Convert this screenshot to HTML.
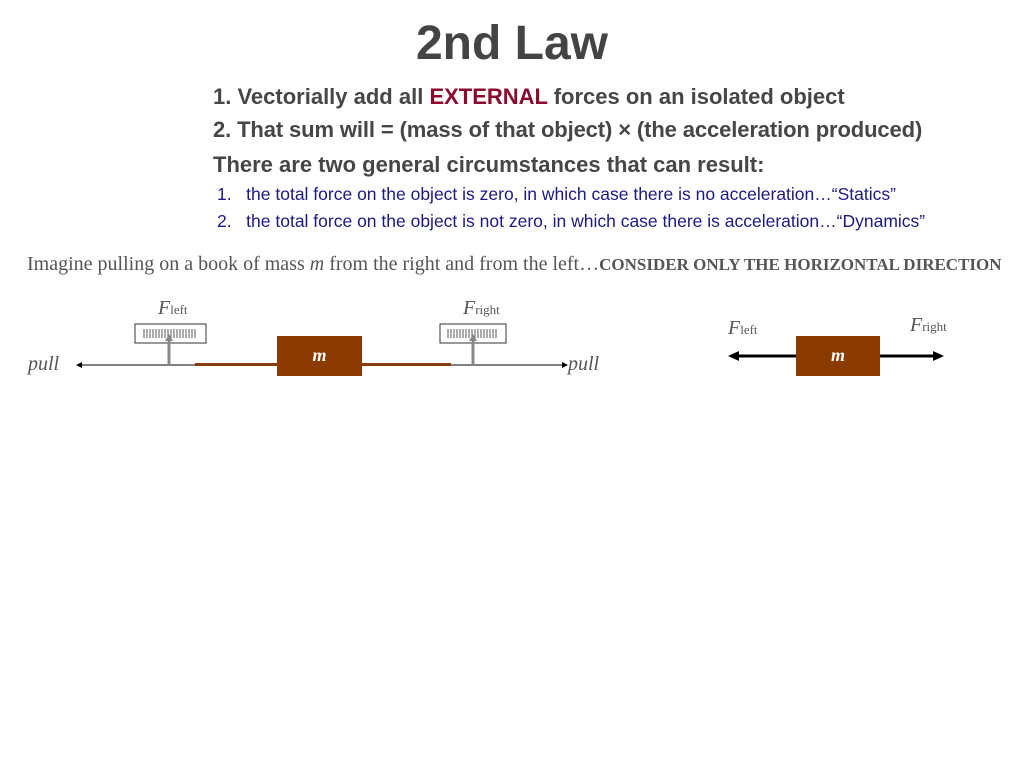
<!DOCTYPE html>
<html><head><meta charset="utf-8"><style>
body{margin:0;width:1024px;height:768px;background:#fff;position:relative;overflow:hidden;font-family:"Liberation Sans",sans-serif}
.a{position:absolute;white-space:nowrap}
.b{font-weight:bold;color:#464646;font-size:22px}
.s{color:#1c1a80;font-size:17.5px}
.ser{font-family:"Liberation Serif",serif}
</style></head><body>
<div class="a b" style="left:0;width:1024px;text-align:center;top:16px;font-size:48px;color:#444">2nd Law</div>
<div class="a b" style="left:213px;top:84px">1. Vectorially add all <span style="color:#8b0a2e">EXTERNAL</span> forces on an isolated object</div>
<div class="a b" style="left:213px;top:117px;letter-spacing:-0.12px">2. That sum will = (mass of that object) × (the acceleration produced)</div>
<div class="a b" style="left:213px;top:152px">There are two general circumstances that can result:</div>
<div class="a s" style="left:217px;top:184px">1.&nbsp;&nbsp; the total force on the object is zero, in which case there is no acceleration…“Statics”</div>
<div class="a s" style="left:217px;top:211px">2.&nbsp;&nbsp; the total force on the object is not zero, in which case there is acceleration…“Dynamics”</div>
<div class="a ser" style="left:27px;top:253px;font-size:20px;color:#555">Imagine pulling on a book of mass <i>m</i> from the right and from the left…<b style="font-size:17px">CONSIDER ONLY THE HORIZONTAL DIRECTION</b></div>
<svg class="a" style="left:0;top:0" width="1024" height="768">
<line x1="80" y1="365" x2="564" y2="365" stroke="#000" stroke-width="1"/>
<path d="M76,365 l6,-3 v6z M568,365 l-6,-3 v6z" fill="#000"/>
<rect x="195" y="363" width="82" height="3" fill="#8b3a0a"/>
<rect x="362" y="363" width="89" height="3" fill="#8b3a0a"/>
<rect x="277" y="336" width="85" height="40" fill="#8b3a00"/>
<rect x="135" y="324" width="71" height="19" fill="#fff" stroke="#333"/>
<rect x="440" y="324" width="66" height="19" fill="#fff" stroke="#333"/>
<g stroke="#333" stroke-width="0.8">
<path d="M144,329v9M147,329v9M150,329v9M153,329v9M156,329v9M159,329v9M162,329v9M165,329v9M168,329v9M171,329v9M174,329v9M177,329v9M180,329v9M183,329v9M186,329v9M189,329v9M192,329v9M195,329v9"/>
<path d="M448,329v9M451,329v9M454,329v9M457,329v9M460,329v9M463,329v9M466,329v9M469,329v9M472,329v9M475,329v9M478,329v9M481,329v9M484,329v9M487,329v9M490,329v9M493,329v9M496,329v9"/>
</g>
<line x1="169" y1="366" x2="169" y2="340" stroke="#888" stroke-width="3"/>
<path d="M169,334 l-4,7 h8z" fill="#888"/>
<line x1="473" y1="366" x2="473" y2="340" stroke="#888" stroke-width="3"/>
<path d="M473,334 l-4,7 h8z" fill="#888"/>
<rect x="796" y="336" width="84" height="40" fill="#8b3a00"/>
<line x1="736" y1="356" x2="796" y2="356" stroke="#000" stroke-width="3"/>
<line x1="880" y1="356" x2="936" y2="356" stroke="#000" stroke-width="3"/>
<path d="M728,356 l11,-5 v10z M944,356 l-11,-5 v10z" fill="#000"/>
</svg>
<div class="a ser" style="left:28px;top:353px;font-size:20px;font-style:italic;color:#555">pull</div>
<div class="a ser" style="left:568px;top:353px;font-size:20px;font-style:italic;color:#555">pull</div>
<div class="a ser" style="left:158px;top:297px;font-size:20px;color:#555"><i>F</i><span style="font-size:13px">left</span></div>
<div class="a ser" style="left:463px;top:297px;font-size:20px;color:#555"><i>F</i><span style="font-size:13px">right</span></div>
<div class="a ser" style="left:728px;top:317px;font-size:20px;color:#555"><i>F</i><span style="font-size:13px">left</span></div>
<div class="a ser" style="left:910px;top:314px;font-size:20px;color:#555"><i>F</i><span style="font-size:13px">right</span></div>
<div class="a ser" style="left:277px;width:85px;text-align:center;top:345px;font-size:18px;color:#fff;font-style:italic;font-weight:bold">m</div>
<div class="a ser" style="left:796px;width:84px;text-align:center;top:345px;font-size:18px;color:#fff;font-style:italic;font-weight:bold">m</div>
</body></html>
